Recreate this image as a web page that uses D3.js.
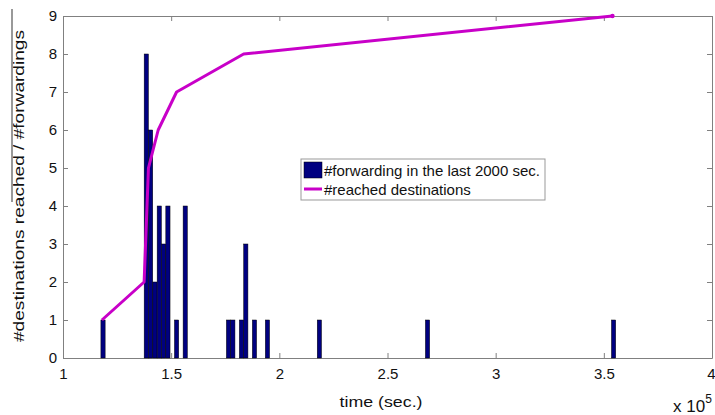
<!DOCTYPE html>
<html>
<head>
<meta charset="utf-8">
<script src="https://cdn.jsdelivr.net/npm/d3@7"></script>
<style>
  body { margin: 0; background: #fff; }
  text { font-family: "Liberation Sans", Arial, sans-serif; fill: #111; }
</style>
</head>
<body>
<svg id="chart"></svg>
<script>
// histogram bins (time in sec, 2000 sec bins) and counts
const binTimes = [118500, 138500, 140500, 142500, 144500, 146500, 148500, 152500, 156500,
                  176500, 178500, 182500, 184500, 188500, 194500, 218500, 268500, 354500];
const binCounts = [1, 8, 6, 2, 4, 3, 4, 1, 4, 1, 1, 1, 3, 1, 1, 1, 1, 1];
const binWidth = 1950;

// reached destinations curve
const reachTimes = [118000, 137500, 139500, 144000, 152500, 183500, 354000];
const reachCounts = [1, 2, 5, 6, 7, 8, 9];

const xTicks = [100000, 150000, 200000, 250000, 300000, 350000, 400000];
const yTicks = [0, 1, 2, 3, 4, 5, 6, 7, 8, 9];

function plotchart() {
  const width = 715, height = 415;
  const margin = {top: 16, right: 3, bottom: 57, left: 63};
  const axisColor = "#808080";

  const svg = d3.select("#chart")
    .attr("width", width)
    .attr("height", height);

  const x = d3.scaleLinear()
    .domain([100000, 400000])
    .range([margin.left, width - margin.right]);
  const y = d3.scaleLinear()
    .domain([0, 9])
    .range([height - margin.bottom, margin.top]);

  //axes, ticks pointing inward like matlab
  const styleAxis = g => {
    g.select(".domain").attr("stroke", axisColor);
    g.selectAll(".tick line").attr("stroke", axisColor);
    g.selectAll(".tick text")
      .attr("font-family", "Liberation Sans, Arial, sans-serif")
      .attr("font-size", 15)
      .attr("fill", "#111");
  };

  svg.append("g")
    .attr("transform", `translate(0,${y(0)})`)
    .call(d3.axisBottom(x).tickValues(xTicks).tickFormat(d => d / 100000)
      .tickSize(-5).tickSizeOuter(0).tickPadding(10))
    .call(styleAxis)
    .call(g => g.select(".tick:last-of-type text").attr("text-anchor", "end").attr("x", 3));
  svg.append("g")
    .attr("transform", `translate(0,${y(9)})`)
    .call(d3.axisTop(x).tickValues(xTicks).tickFormat("")
      .tickSize(-5).tickSizeOuter(0))
    .call(styleAxis);
  svg.append("g")
    .attr("transform", `translate(${x(100000)},0)`)
    .call(d3.axisLeft(y).tickValues(yTicks).tickFormat(d3.format("d"))
      .tickSize(-5).tickSizeOuter(0).tickPadding(6))
    .call(styleAxis);
  svg.append("g")
    .attr("transform", `translate(${x(400000)},0)`)
    .call(d3.axisRight(y).tickValues(yTicks).tickFormat("")
      .tickSize(-5).tickSizeOuter(0))
    .call(styleAxis);

  //bars
  const bins = binTimes.map((t, i) => ({t: t, n: binCounts[i]}));
  svg.append("g")
    .selectAll("rect")
    .data(bins)
    .join("rect")
    .attr("x", d => x(d.t - binWidth / 2))
    .attr("y", d => y(d.n))
    .attr("width", x(binWidth) - x(0))
    .attr("height", d => y(0) - y(d.n))
    .attr("fill", "#000080")
    .attr("stroke", "#000")
    .attr("stroke-width", 0.5);

  //reached destinations line
  const pts = reachTimes.map((t, i) => [t, reachCounts[i]]);
  svg.append("path")
    .datum(pts)
    .attr("fill", "none")
    .attr("stroke", "#c800c8")
    .attr("stroke-width", 3)
    .attr("stroke-linejoin", "round")
    .attr("d", d3.line().x(d => x(d[0])).y(d => y(d[1])));
  svg.append("circle")
    .attr("cx", x(reachTimes[reachTimes.length - 1]))
    .attr("cy", y(reachCounts[reachCounts.length - 1]))
    .attr("r", 2.2)
    .attr("fill", "#c800c8");

  //labels
  svg.append("text")
    .attr("x", 381).attr("y", 407)
    .attr("text-anchor", "middle")
    .attr("font-size", 15)
    .attr("textLength", 83)
    .attr("lengthAdjust", "spacingAndGlyphs")
    .text("time (sec.)");

  svg.append("text")
    .attr("transform", "translate(24,186) rotate(-90)")
    .attr("text-anchor", "middle")
    .attr("font-size", 15)
    .attr("textLength", 312)
    .attr("lengthAdjust", "spacingAndGlyphs")
    .text("#destinations reached / #forwardings");
  svg.append("line")
    .attr("x1", 12).attr("x2", 12)
    .attr("y1", 9).attr("y2", 202)
    .attr("stroke", "#777")
    .attr("stroke-width", 1.5);

  const exp = svg.append("text")
    .attr("x", 673).attr("y", 412)
    .attr("font-size", 17);
  exp.append("tspan").text("x 10");
  exp.append("tspan").attr("dy", -9).attr("font-size", 12).text("5");

  //legend
  const legend = svg.append("g").attr("transform", "translate(301,159)");
  legend.append("rect")
    .attr("width", 244).attr("height", 41)
    .attr("fill", "#fff")
    .attr("stroke", "#999");
  legend.append("rect")
    .attr("x", 3).attr("y", 3)
    .attr("width", 18).attr("height", 16)
    .attr("fill", "#000080")
    .attr("stroke", "#000")
    .attr("stroke-width", 0.5);
  legend.append("text")
    .attr("x", 23).attr("y", 17)
    .attr("font-size", 15)
    .text("#forwarding in the last 2000 sec.");
  legend.append("line")
    .attr("x1", 3).attr("x2", 21)
    .attr("y1", 30).attr("y2", 30)
    .attr("stroke", "#c800c8")
    .attr("stroke-width", 3);
  legend.append("text")
    .attr("x", 23).attr("y", 36)
    .attr("font-size", 15)
    .text("#reached destinations");
}

plotchart();
</script>
</body>
</html>
